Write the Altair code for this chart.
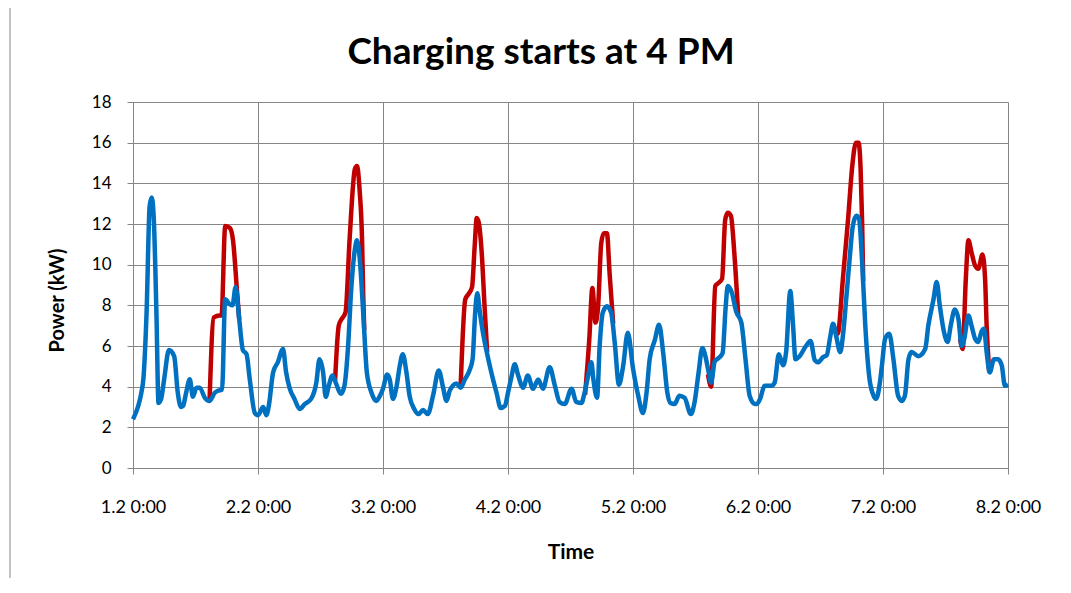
import altair as alt
import pandas as pd

# x axis: hours since 1.2 0:00 ; tick labels every 24 h
TICK_HOURS = [0, 24, 48, 72, 96, 120, 144, 168]
TICK_LABELS = ["1.2 0:00", "2.2 0:00", "3.2 0:00", "4.2 0:00",
               "5.2 0:00", "6.2 0:00", "7.2 0:00", "8.2 0:00"]
TITLE = "Charging starts at 4 PM"

# Blue series (controlled charging)
BLUE_HOURS = [
    0, 1, 1.6, 2, 2.6, 3.2, 3.6, 4, 4.5, 4.9, 5.4, 6, 6.9, 7.9, 8.6, 9.2, 9.6, 10.2,
    10.9, 11.5, 12.2, 12.8, 13.8, 14.7, 15.7, 16.3, 17.1, 17.7, 18.6, 19.1, 19.7,
    20.4, 21.1, 21.8, 22.4, 23.4,
    24.0, 25.0, 25.6, 26.1, 26.9, 27.8, 28.8, 29.4, 30.1, 31.0, 32.0, 33.0, 34.2,
    35.2, 35.8, 36.5, 37.0, 37.6, 38.3, 39.0, 39.9, 40.6, 41.3, 41.9, 42.6, 43.0,
    43.5, 44.2, 44.9, 45.8, 46.7, 47.4,
    48.0, 48.8, 49.3, 49.9, 50.6, 51.2, 51.8, 52.5, 53.1, 54.0, 54.8, 55.7, 56.6,
    57.6, 58.7, 59.5, 60.2, 60.8, 61.4, 62.1, 62.9, 63.7, 64.6, 65.2, 65.7, 66.1,
    66.6, 67.2, 67.8, 68.8, 69.8, 70.6, 71.4,
    72.0, 72.6, 73.3, 73.9, 74.9, 75.8, 76.8, 77.8, 78.7, 80.0, 81.0, 81.9, 82.9,
    84.2, 85.1, 86.1, 86.7, 87.4, 88.0, 88.4, 89.1, 89.6, 90.2, 91.0, 91.8, 92.5,
    93.3, 94.1, 95.0,
    96.0, 97.0, 97.9, 98.6, 99.2, 100.2, 101.0, 101.8, 102.6, 103.2, 104.0, 104.9,
    105.9, 107.1, 107.8, 108.6, 109.3, 109.9, 110.5, 111.0, 111.7, 112.4, 113.2,
    113.8, 114.2, 115.0, 115.8, 116.8, 117.6, 118.4, 119.4,
    119.8, 120.4, 121.3, 122.6, 123.2, 124.0, 124.8, 125.4, 126.2, 126.7, 127.2,
    128.0, 129.2, 130.1, 130.9, 131.5, 132.5, 133.2, 133.9, 134.4, 135.0, 135.8,
    136.3, 137.0, 137.6, 138.2, 138.9, 139.4, 140.0, 140.6, 141.4, 142.2, 142.7,
    143.4,
    143.8, 144.4, 145.2, 146.0, 146.9, 147.6, 148.2, 148.9, 149.5, 150.8, 152.1,
    152.7, 153.7, 154.3, 154.9, 155.7, 156.4, 157.0, 157.8, 158.5, 159.1, 159.6,
    160.4, 161.0, 161.7, 162.3, 162.9, 163.4, 163.9, 164.5, 165.3, 166.1, 166.8,
    167.4, 168.0,
]
BLUE_KW = [
    2.4, 3.05, 3.7, 4.4, 7.6, 12.9, 13.3, 12.2, 7.6, 3.2, 3.4, 4.4, 5.8, 5.5, 3.7, 3.0, 3.05, 3.7,
    4.36, 3.5, 3.95, 3.95, 3.45, 3.3, 3.7, 3.8, 3.85, 8.3, 8.05, 8.0, 8.9,
    7.3, 5.8, 5.6, 4.4, 2.7,
    2.6, 3.0, 2.6, 3.1, 4.7, 5.2, 5.85, 4.7, 3.9, 3.4, 2.9, 3.15, 3.4,
    4.2, 5.35, 4.7, 3.5, 4.05, 4.55, 4.15, 3.65, 4.05, 6.0, 8.8, 10.75, 11.2,
    10.4, 7.65, 4.7, 3.7, 3.3, 3.55,
    3.9, 4.6, 4.35, 3.4, 4.0, 5.0, 5.6, 4.7, 3.55, 2.9, 2.65, 2.85, 2.65,
    3.55, 4.8, 4.0, 3.3, 3.8, 4.05, 4.15, 3.95, 4.35, 4.8, 5.35, 7.65, 8.6,
    7.65, 6.65, 5.85, 4.7, 3.7, 2.95, 3.05,
    3.7, 4.4, 5.1, 4.6, 3.95, 4.55, 3.9, 4.35, 3.9, 4.95, 4.05, 3.25, 3.15,
    3.9, 3.25, 3.2, 3.7, 4.55, 5.2, 4.35, 3.45, 6.0, 7.65, 7.95, 7.65, 6.15,
    4.1, 5.0, 6.65,
    4.9, 3.55, 2.7, 3.7, 5.35, 6.3, 7.05, 5.65, 3.7, 3.2, 3.15, 3.55,
    3.45, 2.65, 3.2, 4.7, 5.9, 5.5, 4.75, 4.2, 5.25, 5.4, 5.65,
    7.95, 8.95, 8.6, 7.7, 7.15, 5.35, 3.55, 3.15,
    3.15, 3.4, 4.05, 4.05, 4.2, 5.6, 5.05, 5.7, 8.7, 7.15, 5.35,
    5.5, 6.0, 6.25, 5.3, 5.2, 5.45, 5.55, 6.5, 7.1, 6.5, 5.7,
    6.5, 8.5, 10.3, 11.9, 12.4, 12.25, 10.1, 7.0, 4.4, 3.55, 3.4,
    4.2,
    5.05, 6.35, 6.6, 5.35, 3.55, 3.3, 3.55, 5.35, 5.7, 5.5, 5.85,
    7.0, 8.3, 9.15, 8.0, 6.7, 6.2, 7.0, 7.8, 7.3, 6.0, 6.35,
    7.5, 7.0, 6.35, 6.2, 6.7, 6.85, 5.7, 4.7, 5.35, 5.35, 5.05,
    4.05, 4.1,
]

# Red series (charging starts at 4 PM), only where it departs from the blue one
RED_SEGMENT = (["d1"] * 9 + ["d2"] * 11 + ["d3"] * 10 + ["d4"] * 11
               + ["d5"] * 10 + ["d6"] * 10 + ["d7"] * 11)
RED_HOURS = [
    14.7, 15.5, 16.6, 17.0, 17.7, 18.6, 19.2, 20.0, 20.4,
    38.8, 39.5, 40.0, 40.8, 41.6, 42.6, 43.0, 43.5, 44.0, 44.2, 44.4,
    62.9, 63.8, 64.4, 65.1, 65.6, 66.0, 66.4, 67.0, 67.5, 68.0,
    86.8, 87.6, 88.2, 88.8, 89.3, 89.9, 90.4, 91.0, 91.5, 92.0, 92.2,
    110.4, 111.0, 111.8, 112.4, 113.1, 113.7, 114.2, 114.8, 115.5, 116.2,
    134.4, 135.3, 136.3, 137.3, 138.1, 138.8, 139.3, 139.7, 140.0, 140.2,
    158.8, 159.3, 159.9, 160.4, 161.0, 161.7, 162.3, 163.1, 163.6, 163.9, 164.4,
]
RED_KW = [
    3.3, 7.4, 7.5, 7.5, 11.9, 11.8, 11.2, 8.6, 7.3,
    4.3, 7.0, 7.3, 7.65, 11.3, 14.7, 14.85, 13.7, 11.0, 8.5, 6.8,
    3.95, 8.3, 8.55, 8.9, 10.9, 12.3, 12.05, 10.4, 7.95, 5.7,
    3.6, 6.3, 8.85, 7.15, 7.95, 11.05, 11.55, 11.55, 9.6, 7.8, 7.1,
    4.6, 4.0, 8.95, 9.1, 9.3, 12.2, 12.55, 12.4, 10.4, 7.5,
    7.1, 6.6, 9.3, 12.25, 14.85, 16.0, 16.0, 14.7, 12.0, 9.2,
    6.35, 5.85, 9.3, 11.2, 10.6, 9.95, 9.8, 10.5, 9.3, 7.0, 4.7,
]

Y_TICKS = [0, 2, 4, 6, 8, 10, 12, 14, 16, 18]

blue_df = pd.DataFrame({"hours": BLUE_HOURS, "kw": BLUE_KW})
red_df = pd.DataFrame({"hours": RED_HOURS, "kw": RED_KW, "seg": RED_SEGMENT})

GRID = "#868686"
FONT = "Lato"
W, H = 875, 366

label_map = "{" + ",".join(f"'{h}':'{l}'" for h, l in zip(TICK_HOURS, TICK_LABELS)) + "}"

x_enc = alt.X(
    "hours:Q",
    scale=alt.Scale(domain=[0, 168], nice=False),
    axis=alt.Axis(
        values=TICK_HOURS,
        labelExpr=f"{label_map}[datum.value + '']",
        title="Time",
        titleFontSize=21, titleFontWeight="bold", titleFont=FONT,
        titleY=84, titleBaseline="middle",
        labelFontSize=18, labelFont=FONT, labelColor="#000000",
        labelPadding=24, tickSize=6, tickColor=GRID, domainColor=GRID,
        gridColor=GRID, gridWidth=1, labelFlush=False,
    ),
)
y_enc = alt.Y(
    "kw:Q",
    scale=alt.Scale(domain=[0, 18], nice=False),
    axis=alt.Axis(
        values=Y_TICKS,
        title="Power (kW)",
        titleFontSize=20, titleFontWeight="bold", titleFont=FONT,
        titleX=-76, titleY=198, titleAngle=270, titleAlign="center",
        titleBaseline="middle",
        labelFontSize=17, labelFont=FONT, labelColor="#000000",
        labelPadding=16, tickSize=6, tickColor=GRID, domainColor=GRID,
        gridColor=GRID, gridWidth=1,
    ),
)

# chart-area frame (left and top edges visible, the rest falls outside the page)
frame = alt.Chart(pd.DataFrame({"k": [0]})).mark_rect(
    fill=None, stroke=GRID, strokeWidth=1
).encode(
    x=alt.value(-123), x2=alt.value(W + 80),
    y=alt.value(-100), y2=alt.value(H + 140),
)

title = alt.Chart(pd.DataFrame({"t": [TITLE]})).mark_text(
    font=FONT, fontSize=37, fontWeight="bold", color="#000000",
    align="center", baseline="alphabetic",
).encode(text="t:N", x=alt.value(408), y=alt.value(-38))

red = alt.Chart(red_df).mark_line(
    color="#C00000", strokeWidth=4.5, interpolate="monotone", strokeJoin="round"
).encode(x=x_enc, y=y_enc, detail="seg:N")

blue = alt.Chart(blue_df).mark_line(
    color="#0070C0", strokeWidth=4.5, interpolate="monotone", strokeJoin="round"
).encode(x=x_enc, y=y_enc)

chart = alt.layer(frame, title, red, blue).properties(
    width=W, height=H,
    autosize=alt.AutoSizeParams(type="none"),
    padding={"left": 125, "top": 94, "right": 52, "bottom": 110},
).configure_view(stroke=GRID, strokeWidth=1).configure(background="white")

chart.save("out.html", embed_options={"renderer": "svg", "actions": False})
